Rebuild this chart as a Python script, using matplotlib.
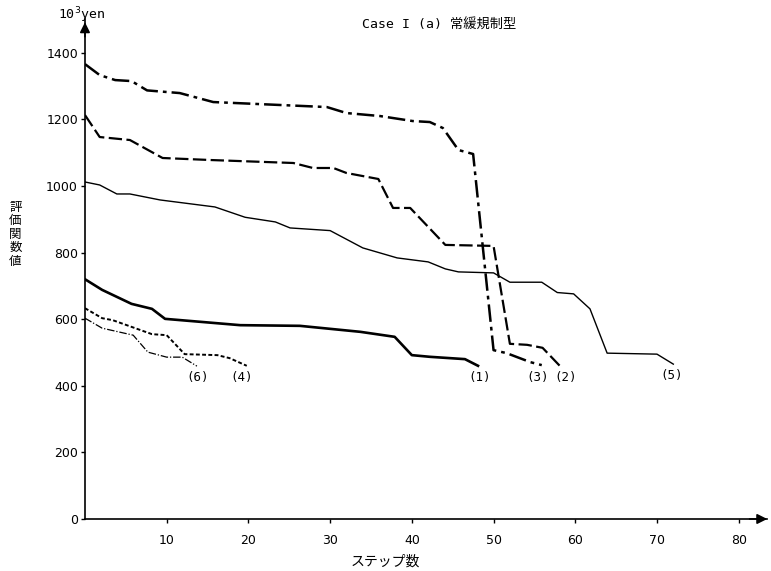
import matplotlib
matplotlib.use("Agg")
import matplotlib.pyplot as plt

plt.rcParams['font.family'] = ['DejaVu Sans', 'Noto Sans CJK JP']

# Curve (1): thick solid
x1 = [0, 2.1, 5.7, 8.2, 9.8, 19, 26.3, 33.7, 37.9, 40, 42.2, 46.5, 48.1]
y1 = [720, 688, 646, 631, 601, 582, 580, 562, 547, 492, 487, 480, 460]
# Curve (2): dashed
x2 = [0, 1.8, 5.5, 9.5, 15.3, 25.5, 27.9, 30.4, 32, 35.9, 37.7, 39.8, 44.1, 50, 52, 54.1, 56, 58.1]
y2 = [1213, 1147, 1138, 1084, 1078, 1069, 1054, 1054, 1039, 1021, 934, 934, 823, 820, 526, 523, 514, 460]
# Curve (3): heavy dash-dot
x3 = [0, 1.8, 3.7, 5.7, 7.6, 11.6, 15.7, 29.6, 32, 36.1, 40.1, 42.2, 43.8, 45.7, 47.5, 50, 51.6, 54.5, 55.9]
y3 = [1366, 1333, 1318, 1315, 1287, 1279, 1252, 1237, 1219, 1210, 1195, 1192, 1174, 1108, 1096, 507, 498, 471, 462]
# Curve (4): short dashes
x4 = [0, 2.1, 3.4, 8.2, 10, 12.2, 16.2, 17.7, 19.8]
y4 = [633, 603, 597, 555, 552, 495, 492, 483, 460]
# Curve (5): thin solid
x5 = [0, 1.8, 3.9, 5.5, 9.2, 15.9, 19.6, 23.3, 25.1, 30, 34, 38.2, 42, 44.1, 45.7, 50, 52, 55.9, 57.8, 59.8, 61.8, 63.9, 70, 72]
y5 = [1012, 1003, 976, 976, 958, 937, 906, 892, 874, 866, 814, 784, 772, 751, 742, 739, 711, 711, 680, 676, 631, 498, 495, 465]
# Curve (6): thin dashed
x6 = [0, 2.1, 5.9, 7.7, 10, 11.9, 13.7]
y6 = [603, 573, 552, 501, 486, 486, 459]

labels = ['(1)', '(2)', '(3)', '(4)', '(5)', '(6)']
label_x = [48.3, 58.8, 55.4, 19.2, 71.8, 13.8]
label_y = [425, 425, 425, 425, 432, 425]

xticks = [10, 20, 30, 40, 50, 60, 70, 80]
yticks = [0, 200, 400, 600, 800, 1000, 1200, 1400]

fig = plt.figure(figsize=(7.71, 5.71), dpi=100)
ax = fig.add_axes([0.1102, 0.0911, 0.885, 0.8748])
ax.set_xlim(0, 83.5)
ax.set_ylim(0, 1500)

k = 'black'
ax.plot(x1, y1, color=k, lw=1.9, solid_joinstyle='round')
ax.plot(x2, y2, color=k, lw=1.6, dashes=(6, 2))
ax.plot(x3, y3, color=k, lw=1.8, dashes=(7, 2, 1.5, 2))
ax.plot(x4, y4, color=k, lw=1.4, dashes=(2, 1.2))
ax.plot(x5, y5, color=k, lw=1.0)
ax.plot(x6, y6, color=k, lw=0.9, dashes=(6, 1.5, 1, 1.5))

for lab, lx, ly in zip(labels, label_x, label_y):
    ax.text(lx, ly, lab, ha='center', va='center', fontsize=9,
            family=['DejaVu Sans Mono'])

ax.spines['top'].set_visible(False)
ax.spines['right'].set_visible(False)
ax.spines['left'].set_linewidth(1.2)
ax.spines['bottom'].set_linewidth(1.2)
ax.set_xticks(xticks)
ax.set_yticks(yticks)
ax.tick_params(axis='both', direction='out', length=3, width=1, labelsize=9)
ax.tick_params(axis='x', pad=8)
ax.tick_params(axis='y', pad=2)

# axis arrows
ax.annotate('', xy=(1.004, 0), xytext=(0.97, 0), xycoords='axes fraction',
            arrowprops=dict(arrowstyle='-|>', color=k, lw=1.2, mutation_scale=15))
ax.annotate('', xy=(0, 1.0), xytext=(0, 0.96), xycoords='axes fraction',
            arrowprops=dict(arrowstyle='-|>', color=k, lw=1.2, mutation_scale=15))

fig.text(0.075, 0.99, '10$^3$yen', fontsize=9.5, ha='left', va='top',
         family=['DejaVu Sans Mono'])
fig.text(0.57, 0.955, 'Case I (a) 常緩規制型', fontsize=9.5, ha='center', va='center',
         family=['DejaVu Sans Mono', 'Noto Sans CJK JP'])
fig.text(0.4995, 0.016, 'ステップ数', fontsize=10, ha='center', va='center',
         family=['Noto Sans CJK JP'], style='italic')
fig.text(0.02, 0.59, '評\n価\n関\n数\n値', fontsize=9, ha='center', va='center',
         family=['Noto Sans CJK JP'], linespacing=1.05)

fig.savefig('out.png', dpi=100)
